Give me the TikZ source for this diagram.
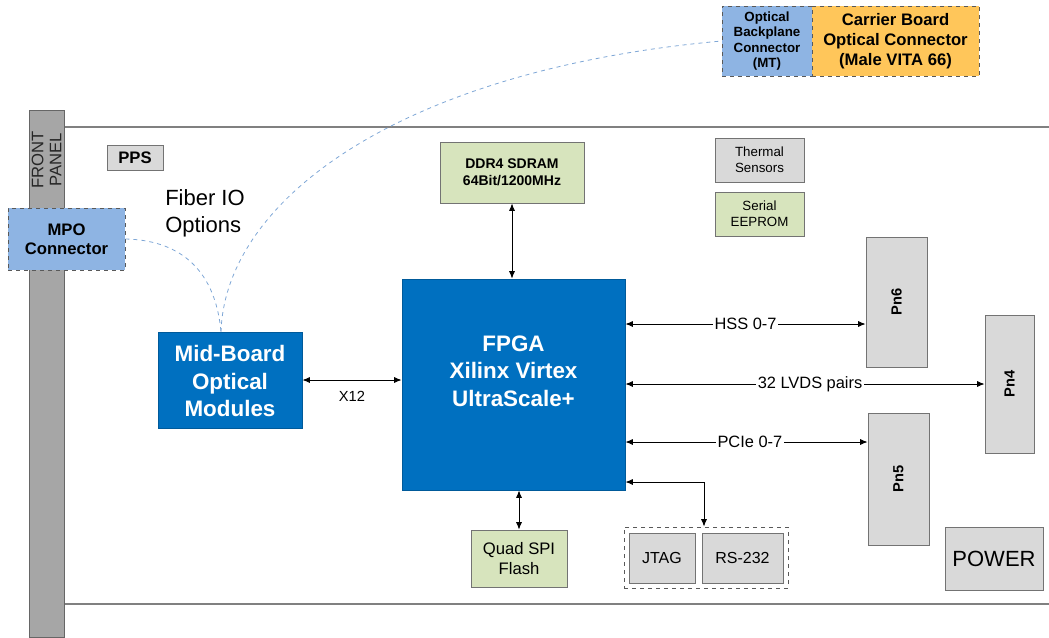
\documentclass[tikz,border=0pt]{standalone}
\usepackage{fontspec}
\setmainfont{Liberation Sans}
\usetikzlibrary{arrows.meta}
\definecolor{fpgablue}{HTML}{0070C0}
\definecolor{ltblue}{HTML}{8EB4E3}
\definecolor{ltgreen}{HTML}{D7E4BD}
\definecolor{ltgray}{HTML}{D9D9D9}
\definecolor{orng}{HTML}{FFC65A}
\definecolor{panelgray}{HTML}{A6A6A6}
\definecolor{fiber}{HTML}{7FA7D6}
\tikzset{
  box/.style={draw=black!55, line width=0.7pt, inner sep=0pt, align=center},
  graybox/.style={box, fill=ltgray},
  greenbox/.style={box, fill=ltgreen},
  bluebox/.style={box, fill=fpgablue, draw=fpgablue!80!black, text=white},
  bluetext/.style={align=center, text=white, font=\fontsize{16.8}{20.5}\selectfont\bfseries},
  dashbox/.style={box, dashed, draw=black!65},
  dconn/.style={{Latex[length=5.5pt,width=4.5pt]}-{Latex[length=5.5pt,width=4.5pt]}, line width=0.6pt, black},
  fib/.style={dashed, draw=fiber, line width=0.6pt},
  lbl/.style={fill=white, inner sep=1.2pt, font=\fontsize{12.3}{14}\selectfont},
  pnlbl/.style={rotate=90, font=\fontsize{11}{13}\selectfont\bfseries},
}
\begin{document}
\begin{tikzpicture}[x=0.75pt, y=-0.75pt]
\useasboundingbox (0,0) rectangle (1049,637);
% board outline
\draw[black!50, line width=0.9pt] (64,127) -- (1049,127);
\draw[black!50, line width=0.9pt] (64,604) -- (1049,604);
% front panel
\node[box, fill=panelgray, draw=black!60, minimum width={35*0.75pt}, minimum height={527*0.75pt}] (fp) at (46.5,373.5) {};
\node[rotate=90, align=center, font=\fontsize{12.5}{13.5}\selectfont, text=black!85] (fptxt) at (46.5,160) {FRONT\\PANEL};
% PPS
\node[graybox, minimum width={56*0.75pt}, minimum height={25*0.75pt}, font=\fontsize{12.5}{14}\selectfont\bfseries] (pps) at (135,157.5) {PPS};
% Fiber IO text
\node[align=left, font=\fontsize{16.5}{20}\selectfont] (fibtxt) at (205,213) {Fiber IO\\Options};
% MPO connector
\node[dashbox, fill=ltblue, minimum width={117*0.75pt}, minimum height={62*0.75pt}, font=\fontsize{12.5}{14.5}\selectfont\bfseries] (mpo) at (66.5,239) {MPO\\Connector};
% Optical backplane & carrier
\node[dashbox, fill=ltblue, minimum width={90*0.75pt}, minimum height={70*0.75pt}, font=\fontsize{10}{11.5}\selectfont\bfseries] (obc) at (767,41) {Optical\\Backplane\\Connector\\(MT)};
\node[dashbox, fill=orng, minimum width={167*0.75pt}, minimum height={70*0.75pt}, font=\fontsize{12.5}{15}\selectfont\bfseries] (cbc) at (895.5,41) {Carrier Board\\Optical Connector\\(Male VITA 66)};
% DDR4
\node[greenbox, minimum width={144*0.75pt}, minimum height={61*0.75pt}, font=\fontsize{10.5}{12.5}\selectfont\bfseries] (ddr) at (512,172.5) {DDR4 SDRAM\\64Bit/1200MHz};
% Thermal / EEPROM
\node[graybox, minimum width={89*0.75pt}, minimum height={44*0.75pt}, font=\fontsize{10}{12}\selectfont] (therm) at (759.5,160) {Thermal\\Sensors};
\node[greenbox, minimum width={89*0.75pt}, minimum height={44*0.75pt}, font=\fontsize{10}{12}\selectfont] (eep) at (759.5,214) {Serial\\EEPROM};
% FPGA
\node[bluebox, minimum width={223*0.75pt}, minimum height={211*0.75pt}] (fpga) at (513.5,384.5) {};
\node[bluetext] (fpgatxt) at (513.5,371) {FPGA\\Xilinx Virtex\\UltraScale+};
% Mid-board
\node[bluebox, minimum width={144*0.75pt}, minimum height={96*0.75pt}] (mbo) at (230,380) {};
\node[bluetext] (mbotxt) at (230,381) {Mid-Board\\Optical\\Modules};
% Pn connectors
\node[graybox, minimum width={61*0.75pt}, minimum height={130*0.75pt}] (pn6) at (896.5,302) {};
\node[pnlbl] (pn6t) at (pn6.center) {Pn6};
\node[graybox, minimum width={49*0.75pt}, minimum height={138*0.75pt}] (pn4) at (1009.5,384) {};
\node[pnlbl] (pn4t) at (pn4.center) {Pn4};
\node[graybox, minimum width={61*0.75pt}, minimum height={132*0.75pt}] (pn5) at (898.5,479) {};
\node[pnlbl] (pn5t) at (pn5.center) {Pn5};
% Quad SPI
\node[greenbox, minimum width={96*0.75pt}, minimum height={57*0.75pt}, font=\fontsize{12.5}{15}\selectfont] (qspi) at (519,558.5) {Quad SPI\\Flash};
% JTAG/RS-232 group
\node[dashbox, minimum width={164*0.75pt}, minimum height={61*0.75pt}] (grp) at (706,557.5) {};
\node[graybox, minimum width={66*0.75pt}, minimum height={50*0.75pt}, font=\fontsize{12}{14}\selectfont] (jtag) at (662,558) {JTAG};
\node[graybox, minimum width={81*0.75pt}, minimum height={50*0.75pt}, font=\fontsize{12}{14}\selectfont] (rs) at (742.5,558) {RS-232};
% POWER
\node[graybox, minimum width={98*0.75pt}, minimum height={63*0.75pt}, font=\fontsize{16.5}{19}\selectfont] (pwr) at (994,558.5) {POWER};
% connectors
\draw[dconn] (mbo.east |- 0,380) -- (fpga.west |- 0,380) node[midway, below=5pt, font=\fontsize{11}{13}\selectfont] {X12};
\draw[dconn] (ddr.south) -- (fpga.north -| ddr.south);
\draw[dconn] (qspi.north) -- (fpga.south -| qspi.north);
\draw[dconn] (fpga.east |- 0,324) -- node[lbl, pos=0.5] {HSS 0-7} (pn6.west |- 0,324);
\draw[dconn] (fpga.east |- 0,384) -- node[lbl, pos=0.514] {32 LVDS pairs} (pn4.west |- 0,384);
\draw[dconn] (fpga.east |- 0,442) -- node[lbl, pos=0.514] {PCIe 0-7} (pn5.west |- 0,442);
\coordinate (jcorner) at (704,482);
\draw[dconn] (fpga.east |- jcorner) -- (jcorner) -- (jcorner |- grp.north);
% fiber curves
\coordinate (mbtop) at (221,332);
\draw[fib] (mpo.east) .. controls (175,240) and (215,265) .. (mbtop);
\draw[fib] (mbtop) .. controls (225,200) and (400,70) .. (obc.west);
\end{tikzpicture}
\end{document}
